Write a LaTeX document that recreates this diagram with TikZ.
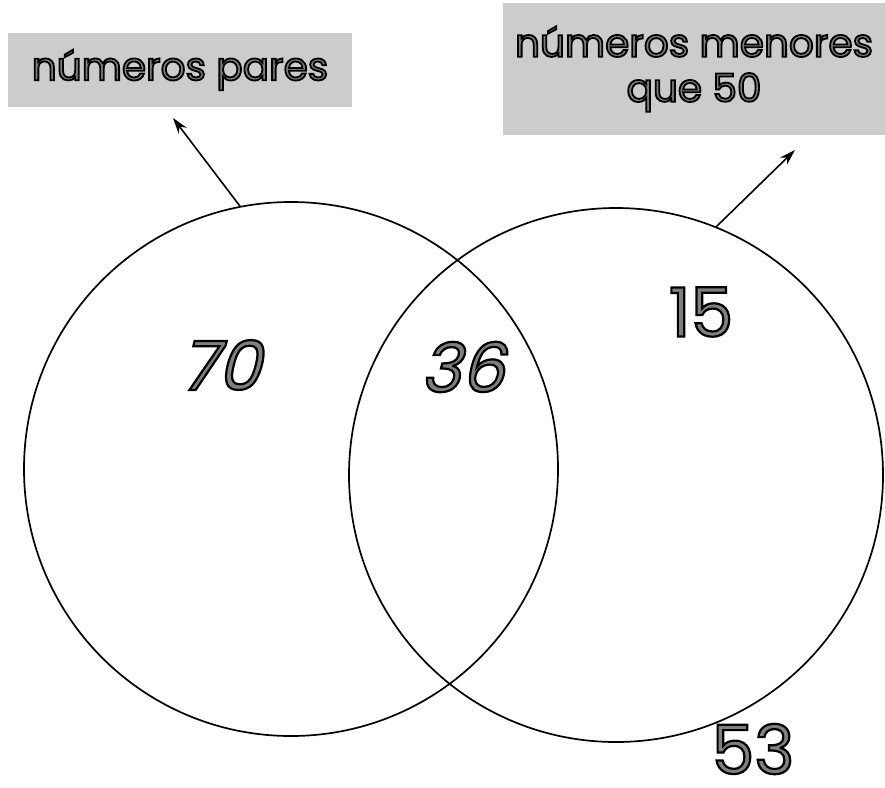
\documentclass[tikz,border=0pt]{standalone}
\usepackage{fontspec}
\setmainfont{Poppins}
\newfontfamily\slantfont[FakeSlant=0.25]{Poppins}
\newcommand\outl[2][2.2]{\special{pdf:literal direct 0 0 0 RG 2 Tr #1 w}#2\special{pdf:literal direct 0 Tr 0.4 w}}
\usetikzlibrary{arrows.meta}
\begin{document}
\begin{tikzpicture}[x=1pt,y=-1pt,
  ring/.style={draw=black, line width=1.7pt, circle, minimum size=534pt, inner sep=0pt},
  labelbox/.style={fill=black!20, inner sep=0pt, align=center, text=black!50,
    font=\fontsize{39}{45}\selectfont},
  pointer/.style={-{Stealth[length=16pt,width=10pt]}, line width=1.6pt},
  num/.style={font=\fontsize{68}{68}\selectfont, text=black!50, inner sep=0pt},
  snum/.style={num, font=\fontsize{68}{68}\slantfont}]
\useasboundingbox (0,0) rectangle (885,787);
\node[labelbox, minimum width=344pt, minimum height=74pt] (L1) at (180,70)
  {\outl[1.8]{números pares}};
\node[labelbox, minimum width=382pt, minimum height=132pt] (L2) at (694,69)
  {\outl[1.8]{números menores}\\\outl[1.8]{que 50}};
\node[ring] (A) at (291,469) {};
\node[ring] (B) at (616,475) {};
\coordinate (tA) at (173,118);
\coordinate (tB) at (795,150);
\draw[pointer] (A.101) -- (tA);
\draw[pointer] (B.68) -- (tB);
\node[snum] (n70) at (220,365) {\outl{70}};
\node[snum] (n36) at (462,367) {\outl{36}};
\node[num] (n15) at (701,312) {\outl{15}};
\node[num] (n53) at (753,749) {\outl{53}};
\end{tikzpicture}
\end{document}
